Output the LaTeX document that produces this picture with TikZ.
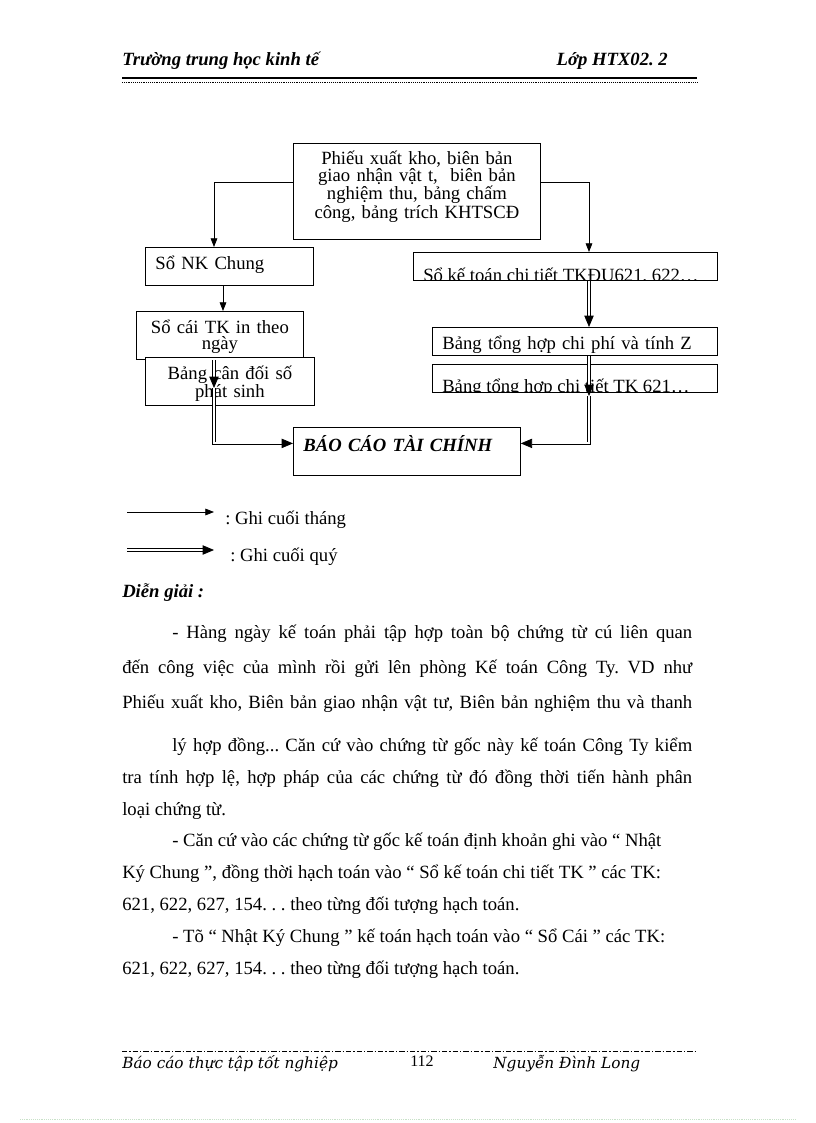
\documentclass[tikz,border=0pt]{standalone}
\usepackage{fontspec}
\setmainfont{Liberation Serif}
\newfontfamily\footfont{DejaVu Serif}
\usetikzlibrary{arrows.meta}
\definecolor{framegreen}{RGB}{200,225,200}
\frenchspacing

\begin{document}
\begin{tikzpicture}[
    x=0.75pt, y=-0.75pt,
    font={\fontsize{14}{12.4}\selectfont},
    docbox/.style={draw,line width=0.6pt,fill=white,inner sep=0pt,anchor=north west},
    plaintext/.style={inner sep=0pt,anchor=base west},
    heading/.style={plaintext,font={\fontsize{14}{16}\selectfont\bfseries\itshape}},
    bodytext/.style={plaintext,text width=427.5pt,align=justify},
    footer/.style={plaintext,font={\footfont\itshape\fontsize{11.5}{13}\selectfont}},
    month/.style={line width=0.6pt,-{Triangle[length=6.5pt,width=5pt]}},
    quarter/.style={double,double distance=1.5pt,line width=0.6pt,-{Triangle[length=8.5pt,width=7pt]}},
]
    \useasboundingbox (0,0) rectangle (816,1123);

    % Header
    \node[heading] (school) at (122,66) {Trường trung học kinh tế};
    \node[heading,anchor=base east] (class) at (668,66) {Lớp HTX02. 2};
    \draw[line width=1.6pt] (122,78) -- (697,78);
    \draw[line width=0.4pt,densely dotted] (122,82) -- (697,82);

    % Documents and books
    \node[docbox,minimum width=185.25pt,minimum height=72pt,text width=180pt,align=center,text height=3pt] (source) at (293,143) {Phiếu xuất kho, biên bản\\ giao nhận vật t,\ \ biên bản\\ nghiệm thu, bảng chấm\\ công, bảng trích KHTSCĐ};
    \node[docbox,minimum width=126pt,minimum height=28.5pt,text width=111pt,align=left,text height=8pt,text depth=3.5pt] (ledger) at (145,247) {Sổ NK Chung};
    \node[docbox,minimum width=125.25pt,minimum height=36pt,text width=118pt,align=center,text height=12pt,text depth=15.5pt] (daybook) at (136,311) {Sổ cái TK in theo\\ ngày};
    \node[docbox,minimum width=126.75pt,minimum height=36pt,text width=118pt,align=center,text height=12pt,text depth=15.5pt] (balance) at (145,357) {Bảng cân đối số\\ phát sinh};

    \node[docbox,minimum width=228pt,minimum height=21pt] (detail) at (413,252) {};
    \begin{scope}
        \clip (detail.south west) rectangle (detail.north east);
        \node[plaintext] (detailtext) at (423,281) {Sổ kế toán chi tiết TKĐU621, 622…};
    \end{scope}
    \node[docbox,minimum width=213.75pt,minimum height=21pt,text width=198.75pt,align=left,text height=15pt,text depth=3pt] (costsum) at (432,327) {Bảng tổng hợp chi phí và tính Z};
    \node[docbox,minimum width=213.75pt,minimum height=21pt] (accsum) at (432,364) {};
    \begin{scope}
        \clip (accsum.south west) rectangle (accsum.north east);
        \node[plaintext] (accsumtext) at (442,392) {Bảng tổng hợp chi tiết TK 621…};
    \end{scope}

    \node[docbox,minimum width=170.25pt,minimum height=36pt,text width=155.25pt,align=left,text height=6pt,text depth=6pt,font={\fontsize{14}{16}\selectfont\bfseries\itshape}] (report) at (293,427) {BÁO CÁO TÀI CHÍNH};

    % Flows
    \coordinate (lcol) at (214,0);
    \coordinate (mcol) at (223,0);
    \coordinate (rcol) at (589,0);
    \coordinate (balancein) at (214,388);
    \coordinate (summaryout) at (589,396);

    \draw[month] ([yshift=6.75pt]source.west) -| (ledger.north -| lcol);
    \draw[month] ([yshift=6.75pt]source.east) -| (detail.north -| rcol);
    \draw[month] (ledger.south -| mcol) -- (daybook.north -| mcol);

    \draw[quarter] (balancein) |- ([yshift=6pt]report.west);
    \draw[quarter] (daybook.south -| lcol) -- (balancein);
    \draw[quarter] (detail.south -| rcol) -- (costsum.north -| rcol);
    \draw[quarter] (summaryout) |- ([yshift=6pt]report.east);
    \draw[quarter] (costsum.south -| rcol) -- (summaryout);

    % Legend
    \coordinate (monthfrom) at (127,512);
    \coordinate (monthto) at (214,512);
    \node[plaintext] (monthlabel) at (225,524) {: Ghi cuối tháng};
    \draw[month] (monthfrom) -- (monthto);
    \coordinate (quarterfrom) at (127,550);
    \coordinate (quarterto) at (214,550);
    \node[plaintext] (quarterlabel) at (230,561) {: Ghi cuối quý};
    \draw[quarter] (quarterfrom) -- (quarterto);

    % Explanation
    \node[heading] (explain) at (122,597) {Diễn giải :};
    \node[bodytext,font={\fontsize{14}{26.25}\selectfont}] (para1) at (122,638) {\tolerance=10000\hspace*{37.5pt}- Hàng ngày kế toán phải tập hợp toàn bộ chứng từ cú liên quan\linebreak đến công việc của mình rồi gửi lên phòng Kế toán Công Ty. VD như\linebreak Phiếu xuất kho, Biên bản giao nhận vật tư, Biên bản nghiệm thu và thanh\parfillskip=0pt\par};
    \node[bodytext,font={\fontsize{14}{24}\selectfont}] (para2) at (122,751) {\tolerance=10000\hspace*{37.5pt}lý hợp đồng... Căn cứ vào chứng từ gốc này kế toán Công Ty kiểm\linebreak tra tính hợp lệ, hợp pháp của các chứng từ đó đồng thời tiến hành phân\linebreak loại chứng từ.};
    \node[bodytext,font={\fontsize{14}{24}\selectfont}] (para3) at (122,846) {\hspace*{37.5pt}- Căn cứ vào các chứng từ gốc kế toán định khoản ghi vào “ Nhật\\ Ký Chung ”, đồng thời hạch toán vào “ Sổ kế toán chi tiết TK ” các TK:\\ 621, 622, 627, 154. . . theo từng đối tượng hạch toán.};
    \node[bodytext,font={\fontsize{14}{24}\selectfont}] (para4) at (122,942) {\hspace*{37.5pt}- Tõ “ Nhật Ký Chung ” kế toán hạch toán vào “ Sổ Cái ” các TK:\\ 621, 622, 627, 154. . . theo từng đối tượng hạch toán.};

    % Footer
    \draw[line width=0.4pt,dash pattern=on 4pt off 1.5pt on 1pt off 1.5pt] (122,1051) -- (697,1051);
    \node[footer] (thesis) at (122,1068) {Báo cáo thực tập tốt nghiệp};
    \node[plaintext,font={\fontsize{12}{14}\selectfont}] (pageno) at (410,1066) {112};
    \node[footer] (author) at (493,1068) {Nguyễn Đình Long};
    \draw[framegreen,line width=0.4pt,densely dotted] (20,1119) -- (796,1119);

\end{tikzpicture}
\end{document}
